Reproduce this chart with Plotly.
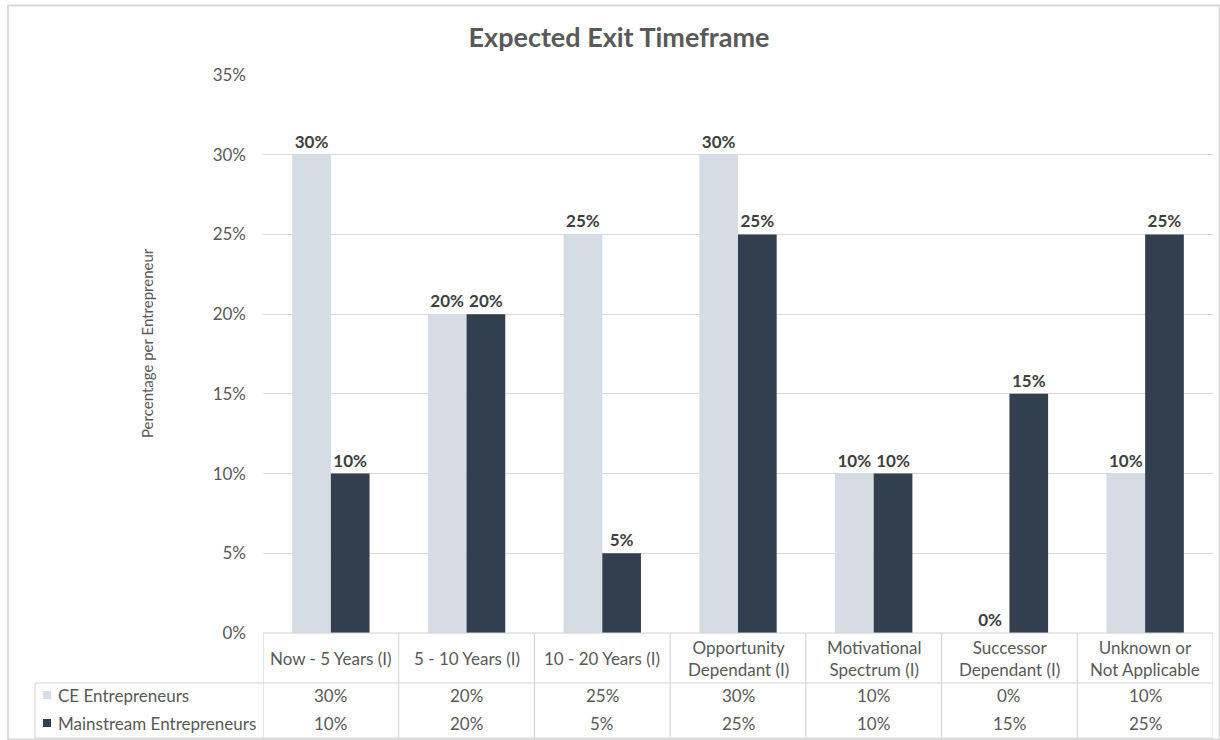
import plotly.graph_objects as go

# Chart data
categories = [
    "Now - 5 Years (I)",
    "5 - 10 Years (I)",
    "10 - 20 Years (I)",
    "Opportunity<br>Dependant (I)",
    "Motivational<br>Spectrum (I)",
    "Successor<br>Dependant (I)",
    "Unknown or<br>Not Applicable",
]
series_names = ["CE Entrepreneurs", "Mainstream Entrepreneurs"]
ce_values = [0.30, 0.20, 0.25, 0.30, 0.10, 0.00, 0.10]
mainstream_values = [0.10, 0.20, 0.05, 0.25, 0.10, 0.15, 0.25]
y_ticks = [0, 0.05, 0.10, 0.15, 0.20, 0.25, 0.30, 0.35]

colors = ["#D6DCE4", "#323F4F"]
text_color = "#595959"
line_color = "#D0D0D0"
font_family = "Lato, 'Open Sans', sans-serif"

W, H = 1220, 740
L, R, T, B = 263, 7, 75, 107
plot_h = H - T - B
plot_w = W - L - R


def py(pixel_y):
    """Pixel row -> paper y coordinate."""
    return (H - B - pixel_y) / plot_h


def px(pixel_x):
    """Pixel column -> paper x coordinate."""
    return (pixel_x - L) / plot_w


x_idx = list(range(len(categories)))
series_values = [ce_values, mainstream_values]

fig = go.Figure()
for name, vals, col in zip(series_names, series_values, colors):
    fig.add_trace(go.Bar(
        x=x_idx, y=vals, name=name, marker=dict(color=col, line=dict(width=0)),
        text=[f"{v:.0%}" for v in vals], textposition="outside",
        textfont=dict(family=font_family, size=17, color="#404040", weight="bold"),
        cliponaxis=False, showlegend=False,
    ))

shapes = []
annotations = []

# Outer chart border
shapes.append(dict(type="rect", xref="paper", yref="paper",
                   x0=px(8), x1=px(1219.5), y0=py(739.5), y1=py(5.5),
                   line=dict(color="#D9D9D9", width=2)))

# Data table grid
y_axis_line = py(633)
y_head_bottom = py(683)
y_table_bottom = py(738)
n = len(categories)
for i in range(n + 1):
    shapes.append(dict(type="line", xref="x", yref="paper",
                       x0=i - 0.5, x1=i - 0.5, y0=y_axis_line, y1=y_table_bottom,
                       line=dict(color=line_color, width=1)))
shapes.append(dict(type="line", xref="paper", yref="paper", x0=0, x1=1,
                   y0=y_axis_line, y1=y_axis_line, line=dict(color=line_color, width=1)))
shapes.append(dict(type="line", xref="paper", yref="paper", x0=px(35), x1=1,
                   y0=y_head_bottom, y1=y_head_bottom, line=dict(color=line_color, width=1)))
shapes.append(dict(type="line", xref="paper", yref="paper", x0=px(35), x1=1,
                   y0=y_table_bottom, y1=y_table_bottom, line=dict(color=line_color, width=1)))
shapes.append(dict(type="line", xref="paper", yref="paper", x0=px(35), x1=px(35),
                   y0=y_head_bottom, y1=y_table_bottom, line=dict(color=line_color, width=1)))

# Category header cells
for i, cat in enumerate(categories):
    annotations.append(dict(x=i, y=py(658), xref="x", yref="paper", text=cat,
                            showarrow=False, xanchor="center", yanchor="middle",
                            font=dict(family=font_family, size=17, color=text_color)))

# Value rows with legend keys
row_y = [695, 723]
for name, vals, col, ry in zip(series_names, series_values, colors, row_y):
    shapes.append(dict(type="rect", xref="paper", yref="paper",
                       x0=px(43), x1=px(51), y0=py(ry + 4), y1=py(ry - 4),
                       fillcolor=col, line=dict(width=0)))
    annotations.append(dict(x=px(56), y=py(ry), xref="paper", yref="paper", text=name,
                            showarrow=False, xanchor="left", yanchor="middle",
                            font=dict(family=font_family, size=17, color=text_color)))
    for i, v in enumerate(vals):
        annotations.append(dict(x=i, y=py(ry), xref="x", yref="paper", text=f"{v:.0%}",
                                showarrow=False, xanchor="center", yanchor="middle",
                                font=dict(family=font_family, size=17, color=text_color)))

# Axis title
annotations.append(dict(x=px(147), y=py(343), xref="paper", yref="paper",
                        text="Percentage per Entrepreneur", textangle=-90, showarrow=False,
                        xanchor="center", yanchor="middle",
                        font=dict(family=font_family, size=15, color=text_color)))

fig.update_layout(
    width=W, height=H,
    margin=dict(l=L, r=R, t=T, b=B),
    paper_bgcolor="white", plot_bgcolor="white",
    barmode="group", bargap=0.43, bargroupgap=0,
    title=dict(text="<b>Expected Exit Timeframe</b>", xref="container", x=619 / W,
               xanchor="center", yref="container", y=1 - 38 / H, yanchor="middle",
               font=dict(family=font_family, size=27, color=text_color)),
    xaxis=dict(range=[-0.5, n - 0.5], showticklabels=False, showgrid=False,
               zeroline=False, showline=False, ticks=""),
    yaxis=dict(range=[0, 0.35], tickvals=y_ticks, tickformat=".0%",
               showgrid=True, gridcolor="#D9D9D9", gridwidth=1,
               zeroline=False, showline=False, ticks="",
               ticklabelstandoff=16,
               tickfont=dict(family=font_family, size=17, color=text_color)),
    shapes=shapes, annotations=annotations,
    showlegend=False,
)

fig.write_html("out.html")
